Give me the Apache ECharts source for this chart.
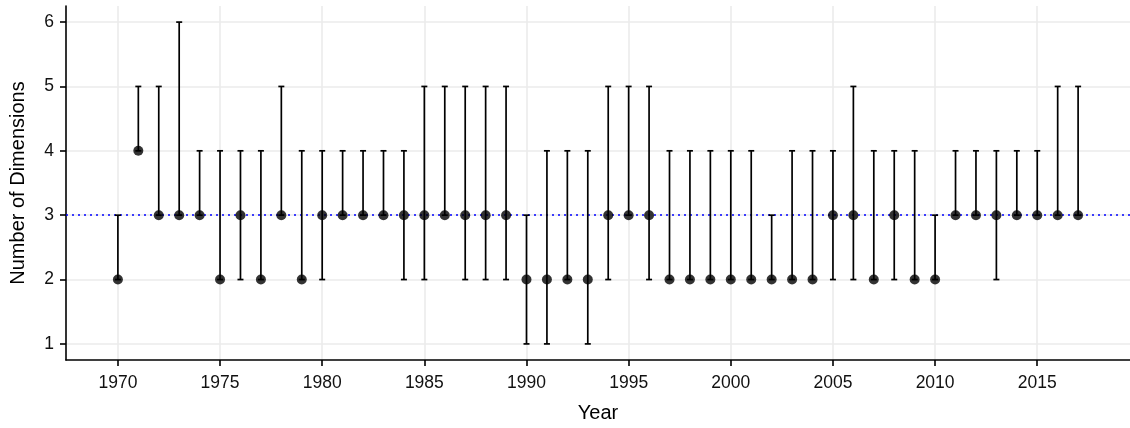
<!DOCTYPE html>
<html>
<head>
<meta charset="utf-8">
<script src="https://cdn.jsdelivr.net/npm/echarts@6/dist/echarts.min.js"></script>
<style>html,body{margin:0;padding:0;background:#fff;}#c{width:1130px;height:428px;}</style>
</head>
<body>
<div id="c"></div>
<script>
const years = [1970,1971,1972,1973,1974,1975,1976,1977,1978,1979,1980,1981,1982,1983,1984,1985,1986,1987,1988,1989,1990,1991,1992,1993,1994,1995,1996,1997,1998,1999,2000,2001,2002,2003,2004,2005,2006,2007,2008,2009,2010,2011,2012,2013,2014,2015,2016,2017];
const medians = [2,4,3,3,3,2,3,2,3,2,3,3,3,3,3,3,3,3,3,3,2,2,2,2,3,3,3,2,2,2,2,2,2,2,2,3,3,2,3,2,2,3,3,3,3,3,3,3];
const lows    = [2,4,3,3,3,2,2,2,3,2,2,3,3,3,2,2,3,2,2,2,1,1,2,1,2,3,2,2,2,2,2,2,2,2,2,2,2,2,2,2,2,3,3,2,3,3,3,3];
const highs   = [3,5,5,6,4,4,4,4,5,4,4,4,4,4,4,5,5,5,5,5,3,4,4,4,5,5,5,4,4,4,4,4,3,4,4,4,5,4,4,4,3,4,4,4,4,4,5,5];
const xTicks = [1970,1975,1980,1985,1990,1995,2000,2005,2010,2015];
const yTicks = [1,2,3,4,5,6];
const refLine = 3;

const chart = echarts.init(document.getElementById('c'), null, {renderer:'canvas'});
const font = 'Liberation Sans, Arial, Helvetica, sans-serif';
const barData = years.map((y,i)=>[y, lows[i], highs[i]]);
const ptData = years.map((y,i)=>[y, medians[i]]);

chart.setOption({
  animation:false,
  backgroundColor:'#fff',
  grid:{left:64, right:0, top:6, bottom:67},
  xAxis:{
    type:'value', min:1967.46, max:2019.54,
    name:'Year', nameLocation:'middle', nameGap:43,
    nameTextStyle:{color:'#000', fontSize:20, fontFamily:font},
    axisLine:{show:true, lineStyle:{color:'#000', width:1.6}},
    axisTick:{show:true, length:6, lineStyle:{color:'#000', width:1.6}, customValues:xTicks},
    axisLabel:{color:'#111', fontSize:17.5, fontFamily:font, margin:14, customValues:xTicks, formatter:v=>String(v)},
    splitLine:{show:true, lineStyle:{color:'#ebebeb', width:1.6}}
  },
  yAxis:{
    type:'value', min:0.75, max:6.25,
    name:'Number of Dimensions', nameLocation:'middle', nameGap:38, nameRotate:90,
    nameTextStyle:{color:'#000', fontSize:20, fontFamily:font},
    axisLine:{show:true, lineStyle:{color:'#000', width:1.6}},
    axisTick:{show:true, length:6, lineStyle:{color:'#000', width:1.6}, customValues:yTicks},
    axisLabel:{color:'#111', fontSize:17.5, fontFamily:font, margin:12, customValues:yTicks},
    splitLine:{show:true, lineStyle:{color:'#ebebeb', width:1.6}}
  },
  series:[
    {
      type:'custom',
      data:barData,
      encode:{x:0, y:[1,2]},
      z:3,
      renderItem:function(params, api){
        const x = api.value(0);
        const lo = api.coord([x, api.value(1)]);
        const hi = api.coord([x, api.value(2)]);
        const w = 3;
        const style = {stroke:'#000', lineWidth:1.7};
        return {type:'group', children:[
          {type:'line', shape:{x1:lo[0], y1:lo[1], x2:hi[0], y2:hi[1]}, style:style},
          {type:'line', shape:{x1:lo[0]-w, y1:lo[1], x2:lo[0]+w, y2:lo[1]}, style:style},
          {type:'line', shape:{x1:hi[0]-w, y1:hi[1], x2:hi[0]+w, y2:hi[1]}, style:style}
        ]};
      }
    },
    {
      type:'scatter',
      data:ptData,
      symbol:'circle', symbolSize:10,
      itemStyle:{color:'#000'},
      z:4,
      markLine:{
        silent:true, symbol:['none','none'], label:{show:false},
        lineStyle:{color:'#0000ff', type:[2,4], width:1.6},
        data:[{yAxis:refLine}],
        z:2
      }
    }
  ]
});
</script>
</body>
</html>
